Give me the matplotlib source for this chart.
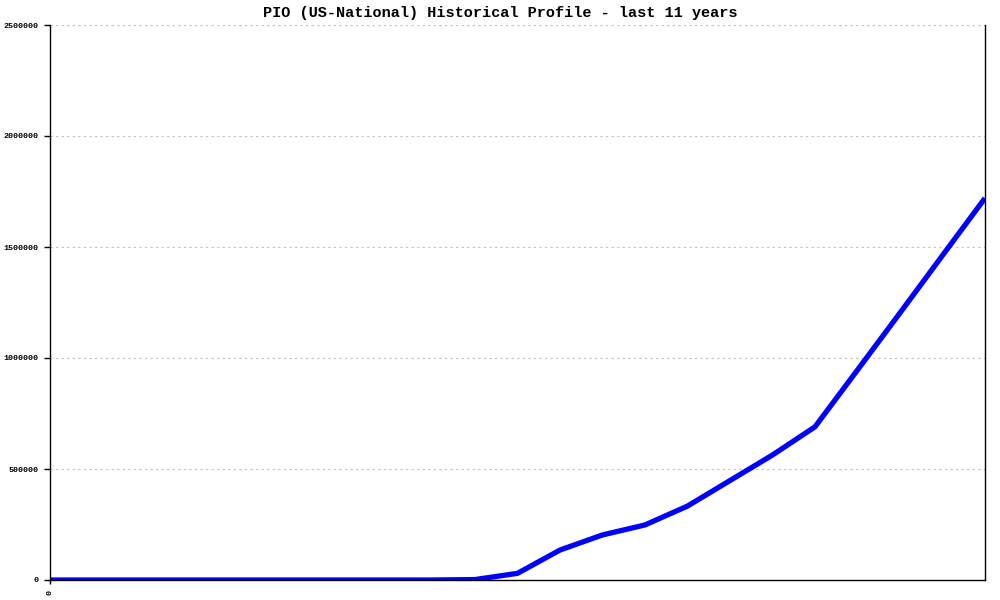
import matplotlib
matplotlib.use("Agg")
import matplotlib.pyplot as plt

# half-year sample points over 11 years
periods = list(range(23))
values = [0, 0, 0, 0, 0, 0, 0, 0, 0, 0, 2000,
          30000, 135000, 203000, 248000, 333000, 448000, 563000, 690000,
          946000, 1203000, 1462000, 1720000]
yticks = [0, 500000, 1000000, 1500000, 2000000, 2500000]
title = "PIO (US-National) Historical Profile - last 11 years"

fig = plt.figure(figsize=(10, 6), dpi=100)
ax = fig.add_axes([0.05, 1 - 580 / 600, 0.935, 555 / 600])

ax.plot(periods, values, color="#0000ff", linewidth=3.8, solid_capstyle="butt")

ax.set_xlim(0, len(periods) - 1)
ax.set_ylim(0, 2500000)
ax.set_yticks(yticks)
ax.set_yticklabels([str(v) for v in yticks], fontsize=6, family="Liberation Mono", fontweight="bold")
ax.set_xticks([0])
ax.set_xticklabels(["0"], rotation=90, fontsize=6, family="Liberation Mono", fontweight="bold")
ax.tick_params(axis="y", length=4, width=1, pad=4)
ax.tick_params(axis="x", length=3, width=1, pad=4)

for v in yticks:
    ax.axhline(v, color="#c0c0c0", linestyle=(0, (2, 3)), linewidth=0.8, zorder=0)

ax.spines["top"].set_visible(False)
for s in ("left", "right", "bottom"):
    ax.spines[s].set_linewidth(1)
    ax.spines[s].set_color("black")

fig.text(0.5, 1 - 13 / 600, title, ha="center", va="center",
         fontsize=11, family="Liberation Mono", fontweight="bold")

fig.savefig("out.png", dpi=100)
